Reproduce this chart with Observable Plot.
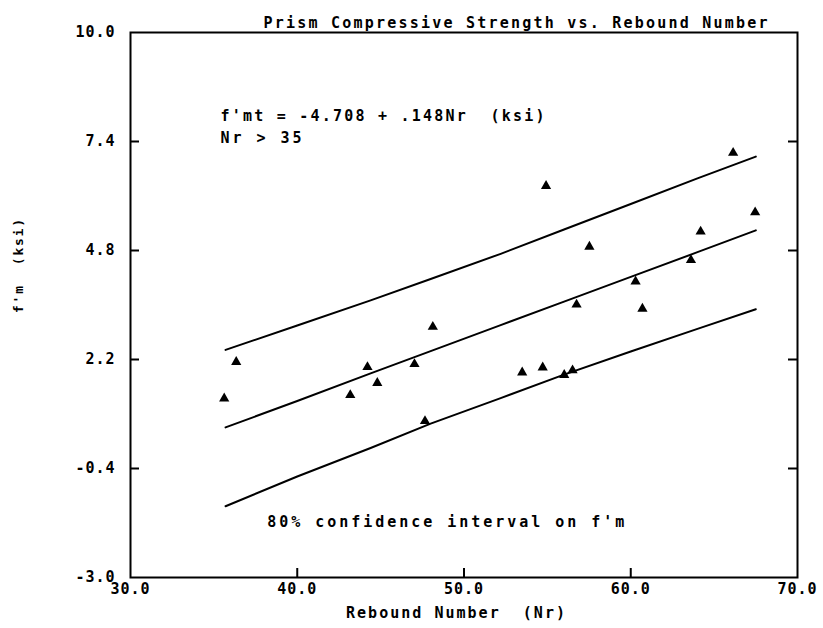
<!DOCTYPE html>
<html>
<head>
<meta charset="utf-8">
<script src="https://cdn.jsdelivr.net/npm/d3@7"></script>
<script src="https://cdn.jsdelivr.net/npm/@observablehq/plot@0.6"></script>
<style>
  html, body { margin: 0; padding: 0; background: white; }
</style>
</head>
<body>
<div id="chart"></div>
<script>
// ---- Data ----
const titleText = "Prism Compressive Strength vs. Rebound Number";
const xLabel = "Rebound Number  (Nr)";
const yLabel = "f'm  (ksi)";

const xTickValues = [30, 40, 50, 60, 70];
const xTickLabels = ["30.0", "40.0", "50.0", "60.0", "70.0"];
const yTickValues = [10, 7.4, 4.8, 2.2, -0.4, -3];
const yTickLabels = ["10.0", "7.4", "4.8", "2.2", "-0.4", "-3.0"];
const xInnerTicks = [40, 50, 60];
const yInnerTicks = [7.4, 4.8, 2.2, -0.4];

// measured points (Rebound Number, f'm ksi)
const reboundNr = [35.62, 36.34, 43.18, 44.21, 44.80, 47.03, 47.66, 48.13, 53.49, 54.72, 54.92,
                   56.01, 56.51, 56.75, 57.52, 60.29, 60.70, 63.61, 64.19, 66.14, 67.46];
const fmKsi = [1.27, 2.14, 1.35, 2.02, 1.64, 2.09, 0.73, 2.98, 1.89, 2.01, 6.34,
               1.83, 1.94, 3.51, 4.89, 4.06, 3.41, 4.57, 5.25, 7.13, 5.71];

// fitted line and 80% confidence band
const lineNr = [35.7, 40, 44.4, 48, 52.2, 56, 60, 64, 67.5];
const fitF   = [0.58, 1.21, 1.87, 2.40, 3.02, 3.58, 4.17, 4.76, 5.28];
const upperF = [2.43, 3.01, 3.61, 4.12, 4.72, 5.30, 5.91, 6.52, 7.04];
const lowerF = [-1.30, -0.59, 0.09, 0.67, 1.28, 1.84, 2.39, 2.93, 3.40];

// annotations
const noteText = ["f'mt = -4.708 + .148Nr  (ksi)", "Nr > 35", "80% confidence interval on f'm"];
const noteNr = [35.4, 35.4, 38.2];
const noteF = [8.0, 7.48, -1.67];

// ---- Build tables ----
const points = reboundNr.map((x, i) => ({x, y: fmKsi[i]}));
const fit = lineNr.map((x, i) => ({x, y: fitF[i]}));
const upper = lineNr.map((x, i) => ({x, y: upperF[i]}));
const lower = lineNr.map((x, i) => ({x, y: lowerF[i]}));
const notes = noteText.map((t, i) => ({t, x: noteNr[i], y: noteF[i]}));

const W = 823, H = 628;
const mL = 130, mR = 26, mT = 32, mB = 51;
const fw = W - mL - mR, fh = H - mT - mB;
const tickLen = 9;

const chart = Plot.plot({
  width: W, height: H,
  marginLeft: mL, marginRight: mR, marginTop: mT, marginBottom: mB,
  x: {domain: [30, 70], axis: null},
  y: {domain: [-3, 10], axis: null},
  style: {fontFamily: "'DejaVu Sans Mono', monospace", fontWeight: "bold", fontSize: "15px",
          color: "black", background: "white", letterSpacing: "1px", overflow: "visible"},
  marks: [
    Plot.frame({stroke: "black", strokeWidth: 2}),
    Plot.tickY(yInnerTicks, {y: d => d, stroke: "black", strokeWidth: 2, insetRight: fw - tickLen}),
    Plot.tickY(yInnerTicks, {y: d => d, stroke: "black", strokeWidth: 2, insetLeft: fw - tickLen}),
    Plot.tickX(xInnerTicks, {x: d => d, stroke: "black", strokeWidth: 2, insetTop: fh - tickLen}),
    Plot.text(yTickValues, {y: d => d, text: (d, i) => yTickLabels[i], frameAnchor: "left",
                            dx: -15, textAnchor: "end", fill: "black"}),
    Plot.text(xTickValues, {x: d => d, text: (d, i) => xTickLabels[i], frameAnchor: "bottom",
                            dy: 16, fill: "black"}),
    Plot.line(upper, {x: "x", y: "y", stroke: "black", strokeWidth: 2}),
    Plot.line(fit, {x: "x", y: "y", stroke: "black", strokeWidth: 2}),
    Plot.line(lower, {x: "x", y: "y", stroke: "black", strokeWidth: 2}),
    Plot.dot(points, {x: "x", y: "y", symbol: "triangle", fill: "black", r: 3.8}),
    Plot.text(notes, {x: "x", y: "y", text: "t", textAnchor: "start", fill: "black"}),
    Plot.text([titleText], {text: d => d, frameAnchor: "top", dy: -15, dx: 52, fill: "black"}),
    Plot.text([xLabel], {text: d => d, frameAnchor: "bottom", dy: 40, dx: -8, fill: "black"}),
    Plot.text([yLabel], {text: d => d, frameAnchor: "left", rotate: -90, dx: -112, dy: 8,
                         fill: "black", fontSize: 13})
  ]
});

// stretch long plotter-style strings to their measured widths
const lengths = {};
lengths[titleText] = 505;
lengths[noteText[0]] = 325;
lengths[noteText[1]] = 82;
lengths[noteText[2]] = 358;
lengths[xLabel] = 220;
lengths[yLabel] = 95;
d3.select(chart).selectAll("text").each(function() {
  const t = this.textContent;
  if (lengths[t]) {
    this.setAttribute("textLength", lengths[t]);
    this.setAttribute("lengthAdjust", "spacing");
  }
});

document.getElementById("chart").appendChild(chart);
</script>
</body>
</html>
